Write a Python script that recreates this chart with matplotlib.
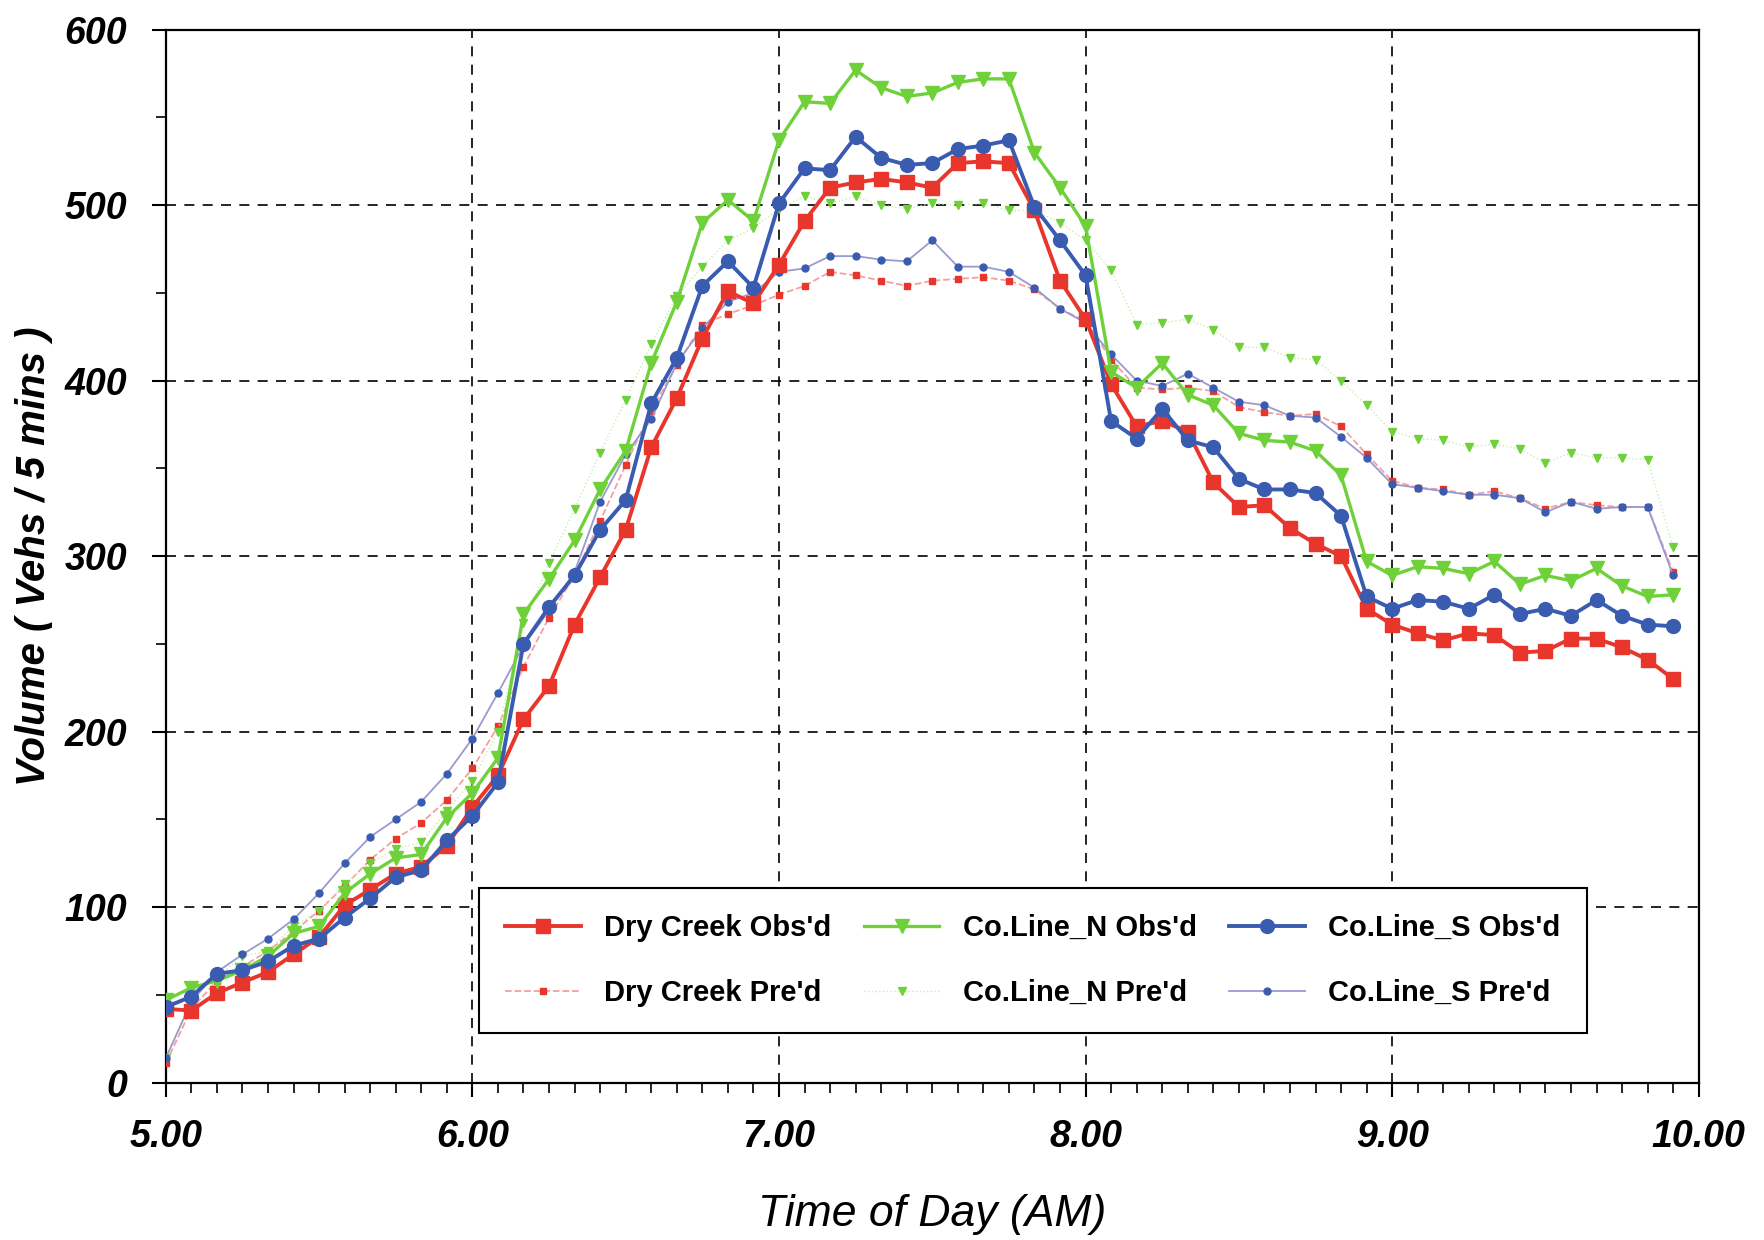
import numpy as np
import matplotlib
matplotlib.use("Agg")
import matplotlib.pyplot as plt
from matplotlib.ticker import MultipleLocator, FormatStrFormatter

plt.rcParams['font.family'] = ['Liberation Sans', 'DejaVu Sans']

# time of day, 5-minute steps from 5:00 to 9:55
time = 5 + np.arange(60) / 12.0

dry_obs = [42, 41, 51, 57, 63, 73, 83, 101, 110, 119, 123, 135, 157, 175, 207, 226, 261, 288, 315, 362,
           390, 424, 451, 444, 466, 491, 510, 513, 515, 513, 510, 524, 525, 524, 497, 457, 435, 398, 374, 377,
           371, 342, 328, 329, 316, 307, 300, 270, 261, 256, 252, 256, 255, 245, 246, 253, 253, 248, 241, 230]
n_obs = [47, 54, 58, 64, 72, 85, 89, 108, 119, 128, 130, 151, 165, 185, 267, 287, 309, 338, 360, 410,
         445, 490, 503, 491, 537, 559, 558, 577, 567, 562, 564, 570, 572, 572, 530, 510, 488, 405, 396, 410,
         392, 386, 370, 366, 365, 360, 346, 297, 289, 294, 293, 290, 297, 284, 289, 286, 293, 283, 277, 278]
s_obs = [43, 49, 62, 64, 69, 78, 82, 94, 105, 117, 121, 138, 152, 171, 250, 271, 289, 315, 332, 387,
         413, 454, 468, 453, 501, 521, 520, 539, 527, 523, 524, 532, 534, 537, 499, 480, 460, 377, 367, 384,
         366, 362, 344, 338, 338, 336, 323, 277, 270, 275, 274, 270, 278, 267, 270, 266, 275, 266, 261, 260]
dry_pred = [11, 42, 58, 66, 75, 86, 98, 112, 127, 139, 148, 161, 179, 203, 237, 265, 289, 320, 352, 383,
            409, 432, 438, 443, 449, 454, 462, 460, 457, 454, 457, 458, 459, 457, 452, 441, 434, 412, 396, 395,
            396, 394, 385, 382, 380, 381, 374, 358, 343, 339, 338, 335, 337, 333, 327, 331, 329, 328, 328, 291]
n_pred = [14, 48, 60, 72, 75, 89, 98, 113, 125, 133, 137, 155, 172, 200, 262, 296, 327, 359, 389, 421,
          448, 465, 480, 487, 498, 505, 501, 505, 500, 498, 501, 500, 501, 497, 497, 490, 480, 463, 432, 433,
          435, 429, 419, 419, 413, 412, 400, 386, 371, 367, 366, 362, 364, 361, 353, 359, 356, 356, 355, 305]
s_pred = [14, 46, 63, 73, 82, 93, 108, 125, 140, 150, 160, 176, 196, 222, 249, 269, 291, 331, 358, 378,
          410, 430, 445, 450, 462, 464, 471, 471, 469, 468, 480, 465, 465, 462, 453, 441, 433, 415, 400, 397,
          404, 396, 388, 386, 380, 379, 368, 356, 341, 339, 337, 335, 335, 333, 325, 331, 327, 328, 328, 289]

fig = plt.figure(figsize=(17.64, 12.4), dpi=100)
ax = fig.add_axes([0.094, 0.127, 0.869, 0.849])

red = '#e8362c'
green = '#6fd13a'
blue = '#3a5cb0'

ax.plot(time, dry_obs, color=red, lw=2.8, marker='s', ms=10, label="Dry Creek Obs'd", zorder=5)
ax.plot(time, dry_pred, color='#f3a0a0', lw=1.3, ls='--', marker='s', ms=5, mfc=red, mec=red,
        label="Dry Creek Pre'd", zorder=4)
ax.plot(time, n_obs, color=green, lw=2.4, marker='v', ms=10, label="Co.Line_N Obs'd", zorder=5)
ax.plot(time, n_pred, color='#c8eeb0', lw=1.0, ls=':', marker='v', ms=6, mfc=green, mec=green,
        label="Co.Line_N Pre'd", zorder=4)
ax.plot(time, s_obs, color=blue, lw=2.8, marker='o', ms=10, label="Co.Line_S Obs'd", zorder=6)
ax.plot(time, s_pred, color='#9a9ad0', lw=1.3, marker='o', ms=5, mfc=blue, mec=blue,
        label="Co.Line_S Pre'd", zorder=4)

ax.set_xlim(5, 10)
ax.set_ylim(0, 600)
ax.xaxis.set_major_locator(MultipleLocator(1))
ax.xaxis.set_minor_locator(MultipleLocator(1 / 12))
ax.yaxis.set_major_locator(MultipleLocator(100))
ax.yaxis.set_minor_locator(MultipleLocator(50))
ax.xaxis.set_major_formatter(FormatStrFormatter('%.2f'))
ax.tick_params(axis='both', which='major', direction='out', length=10, width=1.5, labelsize=27)
ax.tick_params(axis='x', which='major', pad=16)
ax.tick_params(axis='y', which='major', pad=18)
ax.tick_params(axis='both', which='minor', direction='out', length=7, width=1.2)
for lab in ax.get_xticklabels() + ax.get_yticklabels():
    lab.set_fontweight('bold')
    lab.set_fontstyle('italic')

ax.grid(True, which='major', color='black', ls=(0, (6, 5)), lw=1.2)
for sp in ax.spines.values():
    sp.set_linewidth(1.6)

ax.set_ylabel('Volume ( Vehs / 5 mins )', fontsize=29, fontweight='bold', fontstyle='italic', labelpad=8)
ax.set_xlabel('Time of Day (AM)', fontsize=32, fontstyle='italic', labelpad=28)

leg = ax.legend(ncol=3, loc='lower left', bbox_to_anchor=(0.204, 0.047, 0.723, 0.135), mode='expand',
                prop={'weight': 'bold', 'size': 21}, borderaxespad=0,
                frameon=True, fancybox=False, edgecolor='black', framealpha=1,
                handlelength=2.6, handletextpad=0.8, columnspacing=1.0, labelspacing=1.25, borderpad=0.9)
leg.get_frame().set_linewidth(1.5)

fig.savefig('out.png', dpi=100)
